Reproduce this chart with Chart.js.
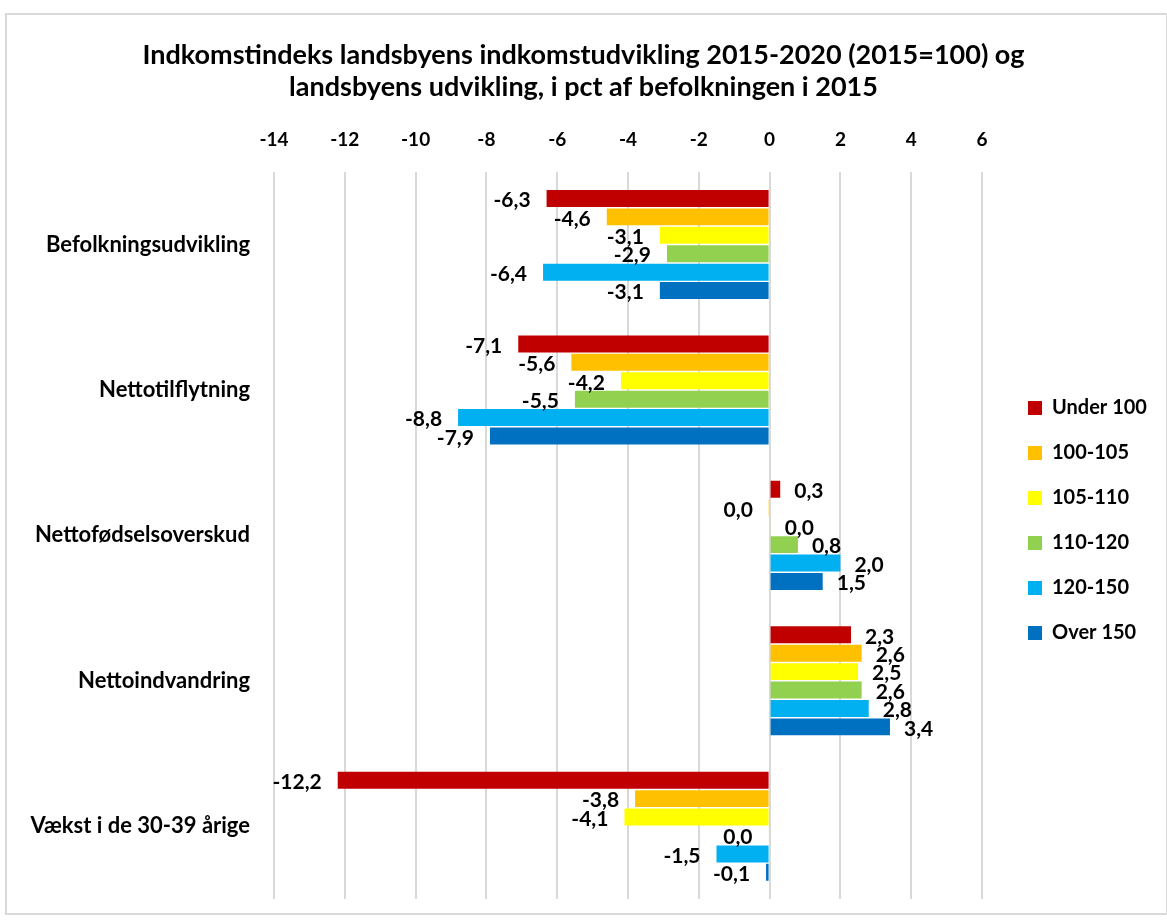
<!DOCTYPE html>
<html>
<head>
<meta charset="utf-8">
<script src="https://cdn.jsdelivr.net/npm/chart.js@4"></script>
<style>
  body{margin:0;background:#fff;}
  #frame{position:absolute;left:5px;top:13px;width:1159px;height:898px;border:2px solid #d9d9d9;}
  #box{position:absolute;left:0;top:0;width:1167px;height:920px;}
</style>
</head>
<body>
<div id="frame"></div>
<div id="box"><canvas id="c" width="1167" height="920"></canvas></div>
<script>
/* data */
const categories = ["Befolkningsudvikling","Nettotilflytning","Nettofødselsoverskud","Nettoindvandring","Vækst i de 30-39 årige"];
const groups = ["Under 100","100-105","105-110","110-120","120-150","Over 150"];
const colors = ["#C00000","#FFC000","#FFFF00","#92D050","#00B0F0","#0070C0"];
// one array per income group, in category order
const under100 = [-6.3,-7.1,0.3,2.3,-12.2];
const g100_105 = [-4.6,-5.6,-0.02,2.6,-3.8];
const g105_110 = [-3.1,-4.2,0.03,2.5,-4.1];
const g110_120 = [-2.9,-5.5,0.8,2.6,-0.03];
const g120_150 = [-6.4,-8.8,2.0,2.8,-1.5];
const over150 = [-3.1,-7.9,1.5,3.4,-0.1];
const series = [under100,g100_105,g105_110,g110_120,g120_150,over150];
const xMin = -14, xMax = 6, xStep = 2;

const FONT = "Lato, 'Liberation Sans', sans-serif";
const fmt = v => (Math.abs(v) < 0.05 ? 0 : v).toFixed(1).replace(".", ",");

/* value labels at the end of each bar */
const barLabels = {
  id:"barLabels",
  afterDatasetsDraw(chart){
    const ctx = chart.ctx;
    ctx.save();
    ctx.font = "bold 21px " + FONT;
    ctx.fillStyle = "#000";
    ctx.textBaseline = "middle";
    chart.data.datasets.forEach((ds,i)=>{
      chart.getDatasetMeta(i).data.forEach((el,j)=>{
        const v = ds.data[j];
        if(v < 0){ ctx.textAlign="right"; ctx.fillText(fmt(v), el.x-16, el.y+2); }
        else { ctx.textAlign="left"; ctx.fillText(fmt(v), el.x+14, el.y+2); }
      });
    });
    ctx.restore();
  }
};

/* legend: fixed width column on the right, nudged to the reference spot */
const legendPlace = {
  id:"legendPlace",
  beforeLayout(chart){
    const lg = chart.legend;
    if(lg && !lg._fixed){
      const fit = lg.fit.bind(lg);
      lg.fit = function(){ fit(); this.width = 185; };
      lg._fixed = true;
    }
  },
  afterLayout(chart){
    const lg = chart.legend;
    lg.left += 21; lg.right += 21;
    lg.top += 71; lg.bottom += 71;
  }
};

new Chart(document.getElementById("c"),{
  type:"bar",
  data:{
    labels:categories,
    datasets:groups.map((g,i)=>({label:g,data:series[i],backgroundColor:colors[i],borderWidth:0,
      categoryPercentage:0.76,barPercentage:0.92}))
  },
  options:{
    indexAxis:"y",
    responsive:false,
    animation:false,
    layout:{padding:{left:0,right:0,top:0,bottom:21}},
    scales:{
      x:{
        position:"top",min:xMin,max:xMax,
        ticks:{stepSize:xStep,color:"#000",padding:21,font:{family:FONT,size:19,weight:"bold"}},
        grid:{color:"#d9d9d9",lineWidth:2,drawTicks:false},
        border:{display:false},
        afterFit(s){s.height=68;}
      },
      y:{
        ticks:{color:"#000",padding:24,font:{family:FONT,size:22,weight:"bold"}},
        grid:{display:false,drawTicks:false},
        border:{display:false},
        afterFit(s){s.width=274;s.paddingTop=0;s.paddingBottom=0;}
      }
    },
    plugins:{
      title:{display:true,
        text:["Indkomstindeks landsbyens indkomstudvikling 2015-2020 (2015=100) og","landsbyens udvikling, i pct af befolkningen i 2015"],
        color:"#000",font:{family:FONT,size:27,weight:"bold",lineHeight:1.2},padding:{top:39,bottom:0}},
      legend:{position:"right",
        labels:{boxWidth:14,boxHeight:14,padding:25,color:"#000",font:{family:FONT,size:20,weight:"bold"}}},
      tooltip:{enabled:false}
    }
  },
  plugins:[barLabels,legendPlace]
});
</script>
</body>
</html>
